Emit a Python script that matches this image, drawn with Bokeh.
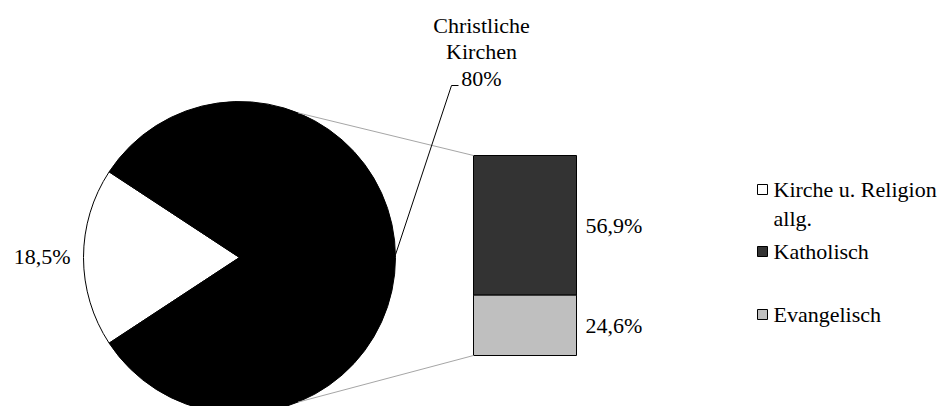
import math
from bokeh.plotting import figure
from bokeh.models import Range1d
from bokeh.embed import file_html
from bokeh.resources import INLINE
from bokeh.core.properties import value

# ---- data ----
pie_names = ["Kirche u. Religion allg.", "Christliche Kirchen"]
pie_values = [18.5, 81.5]
pie_colors = ["#ffffff", "#000000"]
pie_label_other = "18,5%"
pie_label_main = ["Christliche", "Kirchen", "80%"]

bar_names = ["Katholisch", "Evangelisch"]
bar_values = [56.9, 24.6]
bar_colors = ["#333333", "#bfbfbf"]
bar_label_text = ["56,9%", "24,6%"]

legend_lines = [["Kirche u. Religion", "allg."], ["Katholisch"], ["Evangelisch"]]
legend_colors = ["#ffffff", "#333333", "#bfbfbf"]

# ---- layout ----
W, H = 949, 406
FONT = value("Liberation Serif")
FS = "22px"


def sy(y):
    return H - y


p = figure(width=W, height=H, x_range=Range1d(0, W), y_range=Range1d(0, H),
           output_backend="svg", toolbar_location=None, min_border=0)
p.axis.visible = False
p.grid.visible = False
p.outline_line_color = None
p.background_fill_color = "white"

# pie
cx, cy, r = 239, sy(257), 156
total = sum(pie_values)
span_other = 2 * math.pi * pie_values[0] / total
a0 = math.pi - span_other / 2
a1 = math.pi + span_other / 2
p.wedge(x=[cx], y=[cy], radius=r, start_angle=[a0], end_angle=[a1],
        fill_color=pie_colors[0], line_color="black", line_width=1)
p.wedge(x=[cx], y=[cy], radius=r, start_angle=[a1], end_angle=[a0 + 2 * math.pi],
        fill_color=pie_colors[1], line_color="black", line_width=1)

# bar of pie
bx0, bx1 = 473, 576
b_bottom = sy(355)
k = 200 / pie_values[1]
ev_top = b_bottom + bar_values[1] * k
ka_top = ev_top + bar_values[0] * k
p.quad(left=[bx0, bx0], right=[bx1, bx1], bottom=[ev_top, b_bottom], top=[ka_top, ev_top],
       fill_color=bar_colors, line_color="black", line_width=1)

# connectors
ang = math.radians(68)
p.line(x=[cx + r * math.cos(ang), bx0], y=[cy + r * math.sin(ang), ka_top],
       line_color="#a6a6a6", line_width=1)
p.line(x=[cx + r * math.cos(-ang), bx0], y=[cy + r * math.sin(-ang), b_bottom],
       line_color="#a6a6a6", line_width=1)

# bar labels
p.text(x=[585, 585], y=[(ev_top + ka_top) / 2, (b_bottom + ev_top) / 2], text=bar_label_text,
       text_font=FONT, text_font_size=FS, text_align="left", text_baseline="middle",
       text_color="black")

# pie labels
p.text(x=[70], y=[sy(256)], text=[pie_label_other], text_font=FONT, text_font_size=FS,
       text_align="right", text_baseline="middle", text_color="black")
p.text(x=[481, 481, 481], y=[sy(25), sy(51), sy(78)], text=pie_label_main,
       text_font=FONT, text_font_size=FS, text_align="center", text_baseline="middle",
       text_color="black")
la = math.radians(1)
p.line(x=[cx + r * math.cos(la), 451, 458], y=[cy + r * math.sin(la), sy(85), sy(85)],
       line_color="black", line_width=1)

# legend
leg_y = [sy(189), sy(251), sy(314)]
p.rect(x=[762] * 3, y=leg_y, width=10, height=10, fill_color=legend_colors,
       line_color="black", line_width=1)
tx, ty = [], []
for yy, lines in zip(leg_y, legend_lines):
    for i, t in enumerate(lines):
        tx.append(t)
        ty.append(yy - i * 29)
p.text(x=[773] * len(tx), y=ty, text=tx, text_font=FONT, text_font_size=FS,
       text_align="left", text_baseline="middle", text_color="black")

open("out.html", "w").write(file_html(p, INLINE))
